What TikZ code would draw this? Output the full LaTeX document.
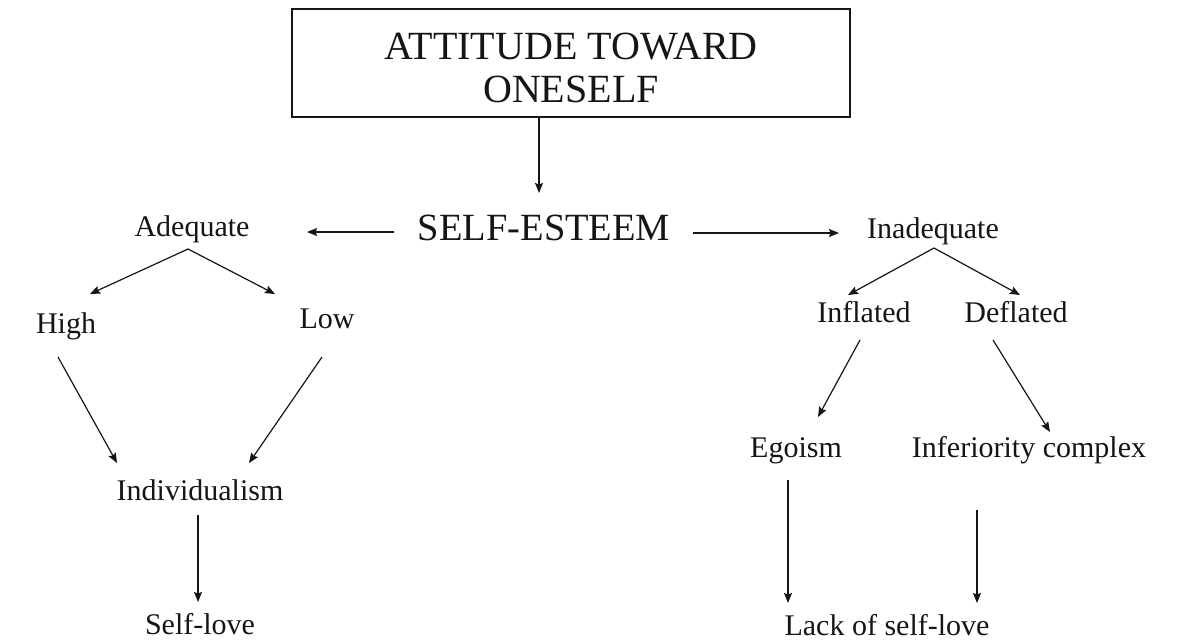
\documentclass[tikz,border=0pt]{standalone}
\usepackage{fontspec}
\setmainfont{Liberation Serif}
\usetikzlibrary{calc,arrows.meta}
\definecolor{ink}{HTML}{151515}
\tikzset{
  lbl/.style={anchor=base, inner sep=0pt, text=ink, font=\fontsize{30}{36}\selectfont},
  biglbl/.style={anchor=base, inner sep=0pt, text=ink, font=\fontsize{38.5}{44}\selectfont},
  topbox/.style={draw=ink, line width=1.6pt, minimum width=558pt, minimum height=108pt,
    inner sep=0pt, align=center, text=ink, font=\fontsize{40}{43}\selectfont},
  arr/.style={draw=ink, line width=1.2pt, -{Stealth[length=10pt,width=8pt,inset=1.5pt]}}
}
% lowers a line of the title without changing its reported size
\newcommand{\lowerline}[1]{\raisebox{-5pt}[\height][\depth]{#1}}
\begin{document}
\begin{tikzpicture}[x=1pt,y=-1pt]
  \useasboundingbox (0,0) rectangle (1188,641);
  % title box
  \node[topbox] (box) at (571,63) {\lowerline{ATTITUDE TOWARD}\\\lowerline{ONESELF}};
  % labels
  \node[biglbl] (se) at (544,240) {SELF-ESTEEM};
  \node[lbl] (adequate) at (192,236) {Adequate};
  \node[lbl] (inadequate) at (933,238) {Inadequate};
  \node[lbl] (high) at (66,333) {High};
  \node[lbl] (low) at (327,328) {Low};
  \node[lbl] (inflated) at (864,322) {Inflated};
  \node[lbl] (deflated) at (1016,322) {Deflated};
  \node[lbl] (individualism) at (200,500) {Individualism};
  \node[lbl] (selflove) at (200,634) {Self-love};
  \node[lbl] (egoism) at (796,457) {Egoism};
  \node[lbl] (inferiority) at (1029,457) {Inferiority complex};
  \node[lbl] (lack) at (887,635) {Lack of self-love};
  % connectors
  \draw[arr] ($(box.south)+(-32,0)$) -- ($(se.base)+(-5,-47)$);
  \draw[arr] ($(se.base)+(-150,-8)$) -- ($(adequate.base)+(115,-4)$);
  \draw[arr] ($(se.base)+(149,-7)$) -- ($(inadequate.base)+(-94,-5)$);
  \draw[arr] ($(adequate.base)+(-4,13)$) -- ($(high.base)+(24,-39)$);
  \draw[arr] ($(adequate.base)+(-4,13)$) -- ($(low.base)+(-52,-34)$);
  \draw[arr] ($(inadequate.base)+(1,10)$) -- ($(inflated.base)+(-16,-27)$);
  \draw[arr] ($(inadequate.base)+(1,10)$) -- ($(deflated.base)+(4,-27)$);
  \draw[arr] ($(high.base)+(-8,24)$) -- ($(individualism.base)+(-83,-37)$);
  \draw[arr] ($(low.base)+(-5,29)$) -- ($(individualism.base)+(49,-37)$);
  \draw[arr] ($(inflated.base)+(-4,18)$) -- ($(egoism.base)+(22,-40)$);
  \draw[arr] ($(deflated.base)+(-23,18)$) -- ($(inferiority.base)+(21,-25)$);
  \draw[arr] ($(individualism.base)+(-2,15)$) -- ($(selflove.base)+(-2,-32)$);
  \draw[arr] ($(egoism.base)+(-8,23)$) -- ($(lack.base)+(-99,-32)$);
  \draw[arr] ($(inferiority.base)+(-52,53)$) -- ($(lack.base)+(90,-32)$);
\end{tikzpicture}
\end{document}
